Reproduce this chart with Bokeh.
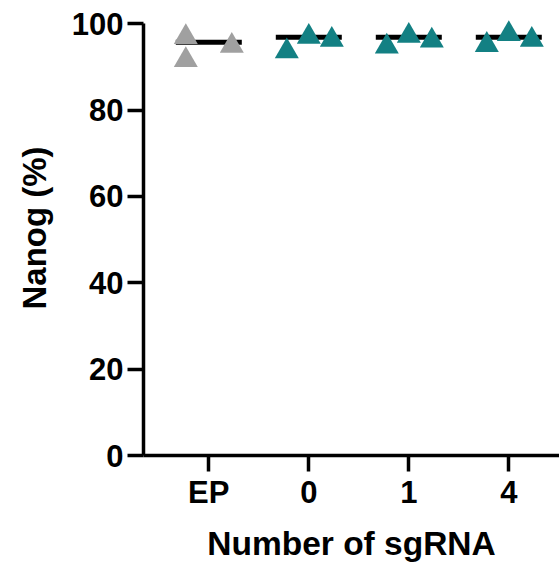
from bokeh.plotting import figure
from bokeh.models import FixedTicker, Range1d
from bokeh.embed import file_html
from bokeh.resources import INLINE

# ---- data ----
categories = ["EP", "0", "1", "4"]
ep_values = [96.9, 91.6, 94.9]
sg0_values = [93.6, 97.0, 96.3]
sg1_values = [94.7, 97.2, 96.1]
sg4_values = [95.1, 97.6, 96.3]
ep_offsets = [-0.23, -0.23, 0.23]
sg_offsets = [-0.22, 0.0, 0.23]
mean_values = [95.7, 96.9, 96.9, 96.9]
y_ticks = [0, 20, 40, 60, 80, 100]

GRAY = "#a0a0a0"
TEAL = "#138083"
FONT = "Liberation Sans"

p = figure(width=559, height=565, output_backend="svg", toolbar_location=None,
           x_range=Range1d(-0.653, 3.507), y_range=Range1d(0, 105.4),
           min_border_left=143, min_border_right=0, min_border_top=0,
           min_border_bottom=110)
p.outline_line_color = None
p.xgrid.visible = False
p.ygrid.visible = False
p.background_fill_color = "white"
p.border_fill_color = "white"

# mean lines
idx = list(range(len(categories)))
p.segment(x0=[i - 0.33 for i in idx], x1=[i + 0.33 for i in idx],
          y0=mean_values, y1=mean_values, line_color="black", line_width=5,
          line_cap="butt")

# points
p.scatter(x=[0 + o for o in ep_offsets], y=ep_values, marker="triangle",
          size=24, fill_color=GRAY, line_color=None)
groups = [sg0_values, sg1_values, sg4_values]
xs, ys = [], []
for gi, vals in enumerate(groups, start=1):
    for o, v in zip(sg_offsets, vals):
        xs.append(gi + o)
        ys.append(v)
p.scatter(x=xs, y=ys, marker="triangle", size=24, fill_color=TEAL,
          line_color=None)

# axes
for ax in (p.xaxis[0], p.yaxis[0]):
    ax.axis_line_width = 3.5
    ax.axis_line_color = "black"
    ax.major_tick_line_width = 3.5
    ax.major_tick_line_color = "black"
    ax.major_tick_out = 16
    ax.major_tick_in = 0
    ax.minor_tick_line_color = None
    ax.major_label_text_font = FONT
    ax.major_label_text_font_style = "bold"
    ax.major_label_text_font_size = "31px"
    ax.major_label_text_color = "black"
    ax.axis_label_text_font = FONT
    ax.axis_label_text_font_style = "bold"
    ax.axis_label_text_color = "black"

p.xaxis.ticker = FixedTicker(ticks=idx)
p.xaxis.major_label_overrides = {i: c for i, c in zip(idx, categories)}
p.xaxis.major_label_standoff = 3
p.xaxis.axis_label = "Number of sgRNA"
p.xaxis.axis_label_text_font_size = "33.5px"
p.xaxis.axis_label_standoff = 12

p.yaxis.ticker = FixedTicker(ticks=y_ticks)
p.yaxis.bounds = (0, 100)
p.yaxis.major_label_standoff = 4
p.yaxis.axis_label = "Nanog (%)"
p.yaxis.axis_label_text_font_size = "33px"
p.yaxis.axis_label_standoff = 16

open("out.html", "w").write(file_html(p, INLINE))
